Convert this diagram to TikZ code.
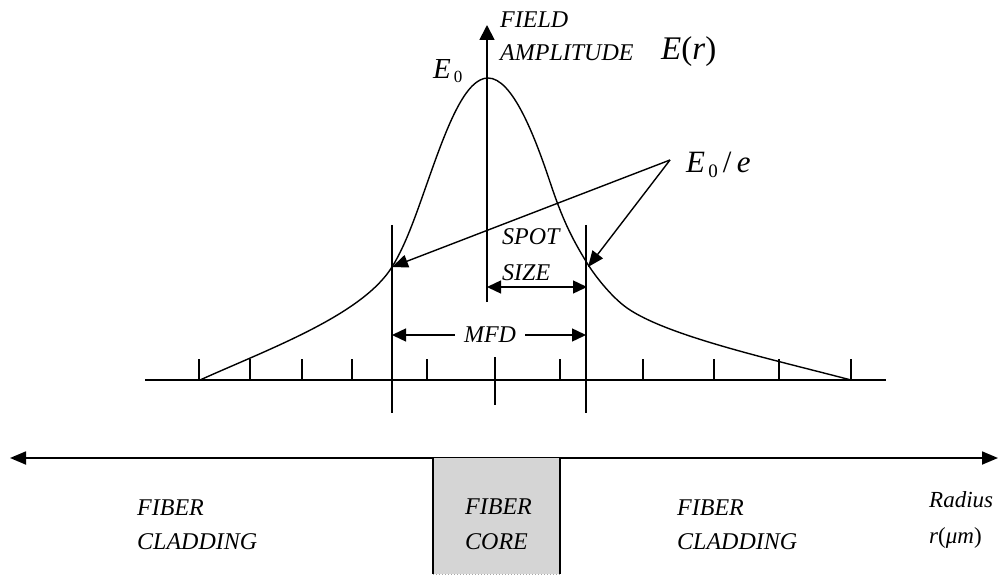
\documentclass[tikz,border=0pt]{standalone}
\usepackage{fontspec}
\setmainfont{Liberation Serif}
\usetikzlibrary{arrows.meta}
\begin{document}
\begin{tikzpicture}[x=1pt,y=-1pt,
  axisline/.style={line width=1.8pt},
  curveline/.style={line width=1.4pt},
  ptr/.style={line width=1.4pt,-{Triangle[length=16pt,width=13pt]}},
  dim/.style={line width=1.4pt,{Triangle[length=14pt,width=13pt]}-{Triangle[length=14pt,width=13pt]}},
  onearrow/.style={line width=1.4pt,-{Triangle[length=14pt,width=13pt]}},
  lbl/.style={font=\itshape\fontsize{24}{26}\selectfont, inner sep=0pt, anchor=west},
  mathlbl/.style={font=\fontsize{31}{33}\selectfont, inner sep=0pt, anchor=west},
]
\useasboundingbox (0,0) rectangle (1000,577);

% coordinates
\coordinate (axbot) at (487,302);
\coordinate (axtop) at (487,25);
\coordinate (baseL) at (145,380);
\coordinate (baseR) at (886,380);
\coordinate (lineLtop) at (392,225);
\coordinate (lineLbot) at (392,413);
\coordinate (lineRtop) at (586,225);
\coordinate (lineRbot) at (586,413);
\coordinate (hitL) at (392,267);
\coordinate (hitR) at (588,267);
\coordinate (vertex) at (670,160);

% vertical axis
\draw[axisline,-{Triangle[length=15pt,width=15pt]}] (axbot) -- (axtop);
% baseline
\draw[axisline] (baseL) -- (baseR);
% ticks
\foreach \x in {199,250,302,352,427,560,643,714,779,851}
  \draw[axisline] (\x,359) -- (\x,380);
\coordinate (ctop) at (495,357);
\coordinate (cbot) at (495,405);
\draw[axisline] (ctop) -- (cbot);
% MFD boundary lines
\draw[axisline] (lineLtop) -- (lineLbot);
\draw[axisline] (lineRtop) -- (lineRbot);

% field curve
\draw[curveline] (200,380) .. controls (270,348.5) and (362,315) .. (392,267)
 .. controls (407,243) and (418,208.6) .. (430,175)
 .. controls (448,124) and (466,78) .. (488,78)
 .. controls (512,78) and (534,134) .. (550,182)
 .. controls (562,218) and (571,237) .. (587,263)
 .. controls (597,279) and (613,298) .. (627,308)
 .. controls (667,336) and (771,359) .. (851,380);

% labels top
\node[lbl] (field) at (500,20) {FIELD};
\node[lbl] (ampl) at (500,53) {AMPLITUDE};
\node[mathlbl,font=\fontsize{33}{35}\selectfont] (Er) at (661,52) {\textit{E}(\textit{r})};
\node[mathlbl,font=\fontsize{29}{31}\selectfont] (E0) at (433,71) {\textit{E}\raisebox{-0.35ex}{\fontsize{17}{18}\selectfont\,0}};
\node[mathlbl] (E0e) at (686,165) {\textit{E}\raisebox{-0.35ex}{\fontsize{19}{20}\selectfont\,0}\,/\,\textit{e}};

% pointers from E0/e
\draw[ptr] (vertex) -- (hitL);
\draw[ptr] (vertex) -- (hitR);

% spot size
\node[lbl] (spot) at (502,237) {SPOT};
\node[lbl] (size) at (502,273) {SIZE};
\coordinate (ssL) at (487,287);
\coordinate (ssR) at (587,287);
\draw[dim] (ssL) -- (ssR);

% MFD
\node[lbl,anchor=center,inner xsep=9pt] (mfd) at (490,335) {MFD};
\coordinate (mfdL) at (392,335);
\coordinate (mfdR) at (586,335);
\draw[onearrow] (mfd.west) -- (mfdL);
\draw[onearrow] (mfd.east) -- (mfdR);

% radius axis
\coordinate (radL) at (10,458);
\coordinate (radR) at (998,458);
\draw[axisline,{Triangle[length=16pt,width=13pt]}-{Triangle[length=16pt,width=13pt]}] (radL) -- (radR);

% core box
\coordinate (coreTL) at (433,458);
\coordinate (coreBR) at (560,574);
\fill[gray!33] (coreTL) rectangle (coreBR);
\draw[axisline] (433,458) -- (433,574);
\draw[axisline] (560,458) -- (560,574);
\draw[gray!70,line width=1pt,dotted] (433,574) -- (560,574);

\node[lbl] (fc1) at (465,507) {FIBER};
\node[lbl] (fc2) at (465,542) {CORE};
\node[lbl] (cl1) at (137,508) {FIBER};
\node[lbl] (cl2) at (137,542) {CLADDING};
\node[lbl] (cr1) at (677,508) {FIBER};
\node[lbl] (cr2) at (677,542) {CLADDING};
\node[lbl,font=\fontsize{23}{25}\selectfont] (rad1) at (929,500) {\textit{Radius}};
\node[lbl,font=\fontsize{23}{25}\selectfont] (rad2) at (929,538) {\textit{r}(\textit{μm})};
\end{tikzpicture}
\end{document}
